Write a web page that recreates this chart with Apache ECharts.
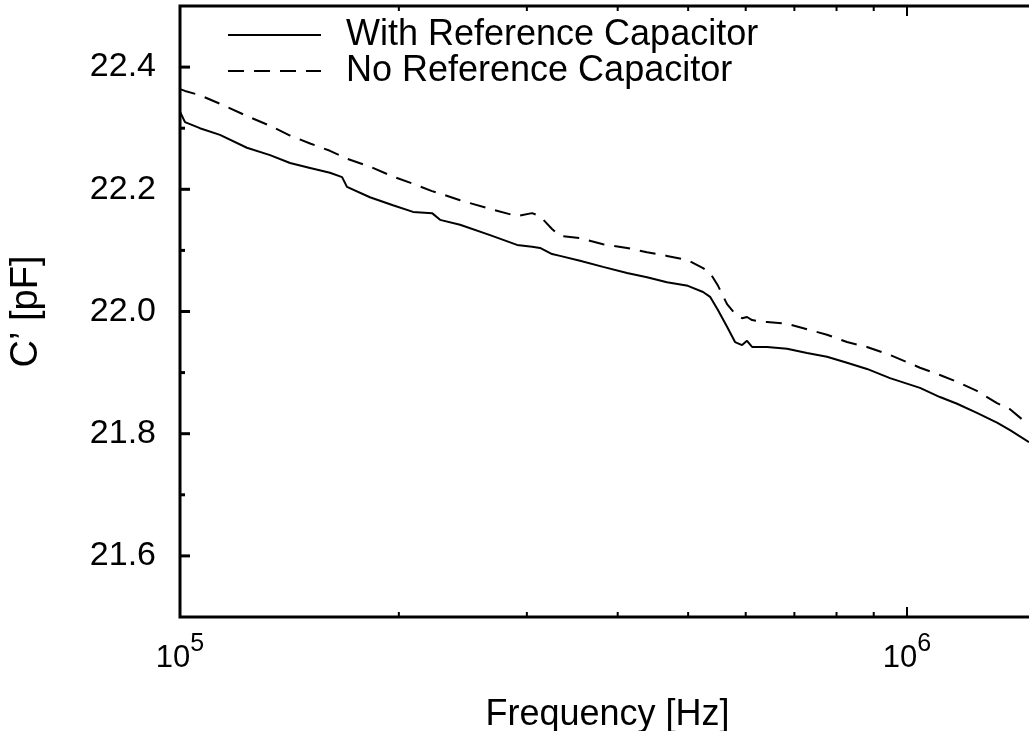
<!DOCTYPE html>
<html>
<head>
<meta charset="utf-8">
<script src="https://cdn.jsdelivr.net/npm/echarts@6/dist/echarts.min.js"></script>
<style>
html,body{margin:0;padding:0;background:#fff;}
#chart{width:1029px;height:731px;}
</style>
</head>
<body>
<div id="chart"></div>
<script>
// Frequency [Hz]
const frequency = [100000, 101600, 106500, 113500, 123600, 133000, 141700, 151000, 160800, 167100,
  169700, 182500, 196300, 209200, 222200, 227900, 242800, 267000, 290800, 305000,
  312800, 324900, 333200, 355000, 381900, 412000, 438900, 467600, 499600, 524200,
  536000, 549700, 565600, 580100, 593100, 602500, 612200, 631900, 642000, 683900,
  728600, 776200, 827000, 881000, 947600, 1042000, 1110000, 1172000, 1248000, 1330000,
  1386000, 1472000];
// C' [pF] with reference capacitor
const withRef = [22.327, 22.310, 22.300, 22.289, 22.268, 22.256, 22.243, 22.235, 22.227, 22.220,
  22.204, 22.187, 22.174, 22.163, 22.161, 22.150, 22.142, 22.125, 22.109, 22.106,
  22.104, 22.094, 22.091, 22.083, 22.073, 22.063, 22.056, 22.048, 22.042, 22.032,
  22.024, 22.002, 21.975, 21.950, 21.945, 21.952, 21.942, 21.942, 21.942, 21.939,
  21.932, 21.926, 21.916, 21.906, 21.891, 21.875, 21.860, 21.849, 21.834, 21.818,
  21.806, 21.786];
// C' [pF] without reference capacitor
const noRef = [22.364, 22.361, 22.354, 22.340, 22.320, 22.304, 22.288, 22.275, 22.263, 22.254,
  22.250, 22.237, 22.221, 22.209, 22.197, 22.193, 22.182, 22.168, 22.156, 22.161,
  22.156, 22.135, 22.124, 22.120, 22.110, 22.104, 22.097, 22.091, 22.084, 22.071,
  22.063, 22.042, 22.012, 21.996, 21.989, 21.991, 21.986, 21.983, 21.983, 21.980,
  21.971, 21.962, 21.950, 21.942, 21.929, 21.908, 21.896, 21.885, 21.870, 21.850,
  21.840, 21.814];

const seriesNames = ['With Reference Capacitor', 'No Reference Capacitor'];
const xMajorTicks = [100000, 1000000];
const xMinorTicks = [200000, 300000, 400000, 500000, 600000, 700000, 800000, 900000];
const yMajorTicks = [21.6, 21.8, 22.0, 22.2, 22.4];
const yMinorTicks = [21.7, 21.9, 22.1, 22.3];

const X_MIN = 100000, X_MAX = 1500000, Y_MIN = 21.5, Y_MAX = 22.5;
const FONT = 'Liberation Sans, Arial, sans-serif';

const xTickData = xMajorTicks.map(v => [v, Y_MIN, 1]).concat(xMinorTicks.map(v => [v, Y_MIN, 0]));
const yTickData = yMajorTicks.map(v => [X_MIN, v, 1]).concat(yMinorTicks.map(v => [X_MIN, v, 0]));

const chart = echarts.init(document.getElementById('chart'), null, {renderer: 'canvas'});
chart.setOption({
  animation: false,
  backgroundColor: '#fff',
  grid: {left: 180, top: 6, width: 855, height: 611, containLabel: false, outerBoundsMode: 'none',
         show: true, borderColor: '#000', borderWidth: 3, backgroundColor: 'transparent'},
  legend: {
    data: seriesNames,
    orient: 'vertical',
    left: 227, top: 17,
    padding: 0,
    itemGap: 0,
    itemWidth: 93, itemHeight: 20,
    itemStyle: {opacity: 0},
    textStyle: {fontFamily: FONT, fontSize: 36, color: '#000', lineHeight: 36, padding: [0, 0, 0, 20]},
    selectedMode: false
  },
  xAxis: {
    type: 'log', logBase: 10, min: X_MIN, max: X_MAX,
    name: 'Frequency [Hz]', nameLocation: 'middle', nameGap: 80,
    nameTextStyle: {fontFamily: FONT, fontSize: 36, color: '#000'},
    axisLine: {show: false}, axisTick: {show: false}, splitLine: {show: false},
    axisLabel: {
      margin: 24,
      formatter: function (v) {
        const e = Math.log10(v);
        if (Math.abs(e - Math.round(e)) < 1e-6 && v <= X_MAX) return '{b|10}{s|' + Math.round(e) + '}';
        return '';
      },
      rich: {
        b: {fontFamily: FONT, fontSize: 31, lineHeight: 34, color: '#000'},
        s: {fontFamily: FONT, fontSize: 25, lineHeight: 25, padding: [0, 0, 27, 0], color: '#000'}
      }
    }
  },
  yAxis: {
    type: 'value', min: Y_MIN, max: Y_MAX, interval: 0.1,
    name: 'C\u2019 [pF]', nameLocation: 'middle', nameGap: 134, nameRotate: 90,
    nameTextStyle: {fontFamily: FONT, fontSize: 38, color: '#000'},
    axisLine: {show: false}, axisTick: {show: false}, splitLine: {show: false},
    axisLabel: {
      margin: 24, fontFamily: FONT, fontSize: 34, color: '#000',
      formatter: function (v) {
        const k = Math.round(v * 10);
        return (k % 2 === 0) ? (k / 10).toFixed(1) : '';
      }
    }
  },
  series: [
    {name: seriesNames[0], type: 'line', symbol: 'none', smooth: false, z: 3,
     data: frequency.map((f, i) => [f, withRef[i]]),
     lineStyle: {color: '#000', width: 2, type: 'solid'}, itemStyle: {color: '#000'}},
    {name: seriesNames[1], type: 'line', symbol: 'none', smooth: false, z: 3,
     data: frequency.map((f, i) => [f, noRef[i]]),
     lineStyle: {color: '#000', width: 2, type: [16, 10]}, itemStyle: {color: '#000'}},
    {name: 'xticks', type: 'custom', silent: true, z: 4, clip: false,
     data: xTickData,
     renderItem: function (params, api) {
       const bottom = api.coord([api.value(0), Y_MIN]);
       const top = api.coord([api.value(0), Y_MAX]);
       const len = api.value(2) ? 10 : 5;
       return {type: 'group', children: [
         {type: 'line', shape: {x1: bottom[0], y1: bottom[1], x2: bottom[0], y2: bottom[1] - len}, style: {stroke: '#000', lineWidth: 2}},
         {type: 'line', shape: {x1: top[0], y1: top[1], x2: top[0], y2: top[1] + len}, style: {stroke: '#000', lineWidth: 2}}
       ]};
     }},
    {name: 'yticks', type: 'custom', silent: true, z: 4, clip: false,
     data: yTickData,
     renderItem: function (params, api) {
       const p = api.coord([X_MIN, api.value(1)]);
       const len = api.value(2) ? 10 : 5;
       return {type: 'line', shape: {x1: p[0], y1: p[1], x2: p[0] + len, y2: p[1]}, style: {stroke: '#000', lineWidth: 3}};
     }}
  ]
});
</script>
</body>
</html>
